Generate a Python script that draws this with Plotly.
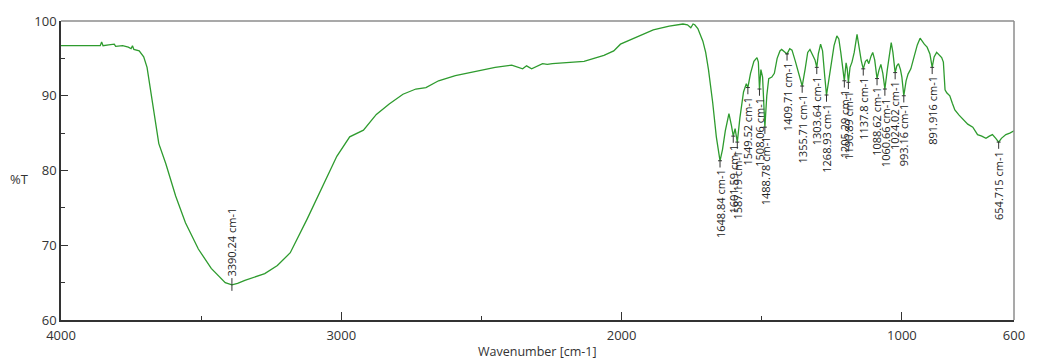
import numpy as np
import plotly.graph_objects as go

# FTIR transmittance spectrum (wavenumber in cm-1, transmittance in %T)
wavenumber = [
    4000, 3960, 3920, 3880, 3860, 3855, 3850, 3830, 3810, 3805, 3780, 3760, 3750, 3745,
    3740, 3721, 3705, 3693, 3675, 3651, 3626, 3591, 3556, 3510, 3464, 3414, 3390.24,
    3370, 3344, 3300, 3273, 3228, 3182, 3122, 3062, 3016, 2970, 2921, 2875, 2829, 2780,
    2734, 2698, 2653, 2593, 2522, 2451, 2392, 2353, 2339,
    2321, 2282, 2265, 2247, 2134, 2063, 2028, 2004, 1950, 1887, 1830, 1781, 1765, 1753,
    1745, 1739, 1728, 1721, 1710, 1700, 1690, 1675, 1662, 1648.84, 1640, 1630, 1617, 1608,
    1601.59, 1595, 1587.19, 1578, 1565, 1555, 1549.52, 1540, 1528, 1517, 1512, 1508.06,
    1503, 1497, 1488.78, 1482, 1475, 1464, 1455, 1445, 1435, 1429, 1418, 1409.71, 1400, 1392,
    1380, 1368, 1355.71, 1345, 1336, 1328, 1318, 1310, 1303.64, 1298, 1290, 1283, 1275,
    1268.93, 1262, 1252, 1242, 1232, 1225, 1218, 1210, 1205.29, 1199, 1195, 1190.89, 1185,
    1178, 1170, 1160, 1153, 1145, 1137.8, 1130, 1124, 1118, 1110, 1104, 1097, 1088.62, 1082,
    1075, 1068, 1060.66, 1052, 1045, 1038, 1032, 1028, 1024.02, 1018, 1012, 1005, 1000,
    993.16, 985, 978, 968, 958, 945, 935, 929, 920, 910, 900, 891.916, 885, 876, 866, 858,
    852, 846, 840, 829, 820, 811, 796, 782, 765, 747, 738, 730, 715, 700, 688, 677, 665,
    654.715, 645, 635, 629, 615, 607, 600,
]
transmittance = [
    96.7, 96.7, 96.6, 96.7, 96.7, 97.2, 96.7, 96.8, 96.9, 96.6, 96.7, 96.5, 96.3, 96.7,
    96.2, 96.0, 95.2, 93.8, 89.4, 83.6, 80.9, 76.6, 73.0, 69.5, 66.9, 65.0, 64.7,
    64.9, 65.3, 65.8, 66.2, 67.3, 69.0, 73.5, 78.3, 81.9, 84.5, 85.4, 87.5, 88.9, 90.2,
    90.9, 91.1, 92.0, 92.7, 93.2, 93.8, 94.1, 93.6, 94.0,
    93.6, 94.3, 94.2, 94.3, 94.6, 95.4, 96.0, 96.9, 97.8, 98.8, 99.3, 99.6, 99.5, 99.1,
    99.6, 99.5, 99.0, 98.4, 97.3, 95.8, 93.5, 89.1, 84.5, 81.3, 82.8, 85.3, 87.6, 86.0,
    84.6, 85.6, 83.8, 87.0, 90.5, 91.6, 91.1, 93.0, 94.6, 95.1, 94.5, 90.9,
    93.5, 92.5, 85.8, 90.0, 92.3, 92.5, 93.0, 95.0, 96.0, 96.2, 95.9, 95.6, 96.3, 96.1,
    94.6, 92.8, 91.3, 93.6, 95.8, 96.2, 95.5, 94.8, 93.8, 95.6, 96.9, 96.0, 92.5,
    90.1, 91.8, 94.5, 96.7, 98.0, 97.6, 95.8, 93.5, 92.0, 94.4, 93.6, 91.8, 93.8,
    94.5, 95.8, 98.2, 96.5, 94.7, 93.6, 94.6, 94.8, 94.3, 95.3, 95.8, 94.8, 92.3, 93.4,
    94.2, 93.0, 90.9, 93.5, 95.5, 97.1, 95.8, 94.2, 93.1, 94.0, 94.3, 93.5, 92.5,
    90.0, 92.0, 92.9, 93.6, 95.0, 96.8, 97.7, 97.3, 96.9, 96.5, 95.6, 93.8, 95.2, 95.8, 95.4, 95.1,
    94.5, 90.8, 90.4, 90.0, 89.0, 88.1, 87.4, 86.9, 86.2, 85.8, 85.2, 84.8, 84.6, 84.3, 84.6, 84.8, 84.3,
    83.8, 84.3, 84.6, 84.8, 85.0, 85.2, 85.3,
]

# Picked peaks
peak_wn = [3390.24, 1648.84, 1601.59, 1587.19, 1549.52, 1508.06, 1488.78, 1409.71,
           1355.71, 1303.64, 1268.93, 1205.29, 1190.89, 1137.8, 1088.62, 1060.66,
           1024.02, 993.16, 891.916, 654.715]
peak_text = ["3390.24", "1648.84", "1601.59", "1587.19", "1549.52", "1508.06", "1488.78",
             "1409.71", "1355.71", "1303.64", "1268.93", "1205.29", "1190.89", "1137.8",
             "1088.62", "1060.66", "1024.02", "993.16", "891.916", "654.715"]

x_ticks = [4000, 3000, 2000, 1000, 600]
x_minor = [3500, 2500, 1500]
y_ticks = [60, 70, 80, 90, 100]

LINE_GREEN = "#2e9b2e"
FONT = "Open Sans, Liberation Sans, Arial, sans-serif"

wn_arr = np.array(wavenumber, dtype=float)
t_arr = np.array(transmittance, dtype=float)
order = np.argsort(wn_arr)
peak_t = np.interp(peak_wn, wn_arr[order], t_arr[order])

fig = go.Figure()
fig.add_trace(go.Scatter(
    x=wavenumber, y=transmittance, mode="lines",
    line=dict(color=LINE_GREEN, width=1.3), hoverinfo="skip", showlegend=False,
))

# peak markers: short vertical stem plus a tiny cap at the peak
tx, ty = [], []
for w, t in zip(peak_wn, peak_t):
    if w > 3000:
        tx += [w, w, None]
        ty += [t - 0.8, t + 0.9, None]
    else:
        tx += [w, w, None, w + 7, w - 7, None]
        ty += [t, t - 0.9, None, t, t, None]
fig.add_trace(go.Scatter(
    x=tx, y=ty, mode="lines", line=dict(color="#333333", width=1),
    hoverinfo="skip", showlegend=False,
))

annotations = []
for w, t, s in zip(peak_wn, peak_t, peak_text):
    above = w > 3000
    annotations.append(dict(
        x=w, y=t + (0.9 if above else -0.9), xref="x", yref="y",
        text=f"{s} cm-1", textangle=-90, showarrow=False,
        xanchor="center", yanchor="bottom" if above else "top",
        font=dict(family=FONT, size=11, color="#222222"),
    ))

annotations.append(dict(
    x=0.5, y=-0.106, xref="paper", yref="paper", text="Wavenumber [cm-1]",
    showarrow=False, xanchor="center", yanchor="middle",
    font=dict(family=FONT, size=12.5, color="#333333"),
))
annotations.append(dict(
    x=-0.032, y=0.47, xref="paper", yref="paper", text="%T",
    showarrow=False, xanchor="right", yanchor="middle",
    font=dict(family=FONT, size=13, color="#333333"),
))

fig.update_layout(
    width=1037, height=360,
    margin=dict(l=61, r=12, t=18, b=40),
    paper_bgcolor="white", plot_bgcolor="white",
    annotations=annotations,
    shapes=[
        dict(type="line", xref="paper", yref="paper", x0=0, x1=1, y0=1, y1=1,
             line=dict(color="#8c8c8c", width=1.5)),
        dict(type="line", xref="paper", yref="paper", x0=1, x1=1, y0=0, y1=1,
             line=dict(color="#8c8c8c", width=1.5)),
    ],
)
fig.update_xaxes(
    range=[4000, 600], tickmode="array", tickvals=x_ticks,
    ticks="inside", ticklen=8, tickcolor="#333333", tickwidth=1,
    showline=True, linecolor="#333333", linewidth=1.5, showgrid=False, zeroline=False,
    tickfont=dict(family=FONT, size=13, color="#333333"), ticklabelstandoff=3,
    minor=dict(tickmode="array", tickvals=x_minor, ticks="inside", ticklen=4,
               tickcolor="#333333", showgrid=False),
)
fig.update_yaxes(
    range=[60, 100], tickmode="array", tickvals=y_ticks,
    ticks="inside", ticklen=7, tickcolor="#333333", tickwidth=1,
    showline=True, linecolor="#333333", linewidth=1.5, showgrid=False, zeroline=False,
    tickfont=dict(family=FONT, size=13, color="#333333"),
    minor=dict(dtick=5, ticks="inside", ticklen=4, tickcolor="#333333", showgrid=False),
)

fig.write_html("out.html")
